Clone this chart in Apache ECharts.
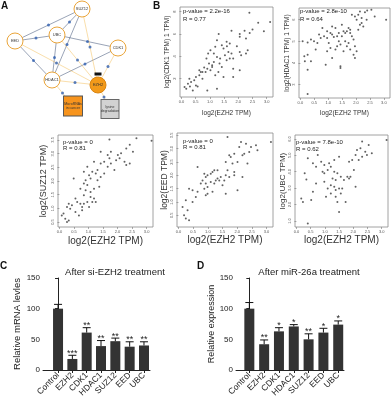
<!DOCTYPE html>
<html>
<head>
<meta charset="utf-8">
<script src="https://cdn.jsdelivr.net/npm/echarts@6/dist/echarts.min.js"></script>
<style>html,body{margin:0;padding:0;background:#fff}#main{width:392px;height:400px}</style>
</head>
<body>
<div id="main"></div>
<script>
// ---- panel A : network ----
const nodeNames = ['SUZ12', 'EED', 'UBC', 'CDK1', 'HDAC1', 'EZH2', 'MicroRNAs\nin cancer', 'lysine\ndegradation', 'tag'];
const nodeX = [82, 15, 57, 118, 52, 98, 73, 110, 98];
const nodeY = [9, 41, 35, 48, 80, 85, 106, 109, 74];
const blueLinks = [[1, 0], [1, 2], [1, 4], [2, 0], [0, 4], [2, 4], [2, 3], [4, 3]];
const orangeLinks = [[0, 5], [1, 5], [2, 5], [4, 5], [3, 5], [4, 6], [5, 7]];

// ---- panel B : scatter plots ----
const cdk1Points = [
  [0.11,1.25],[0.17,1.1],[0.23,1.55],[0.28,2.0],[0.34,1.7],[0.4,0.95],[0.45,1.85],[0.51,2.15],[0.57,1.3],[0.63,2.3],
  [0.68,2.6],[0.74,2.0],[0.85,2.6],[0.91,2.9],[0.97,3.35],[1.08,3.05],[1.19,2.3],[1.25,1.1],[0.91,0.95],[1.02,2.75],
  [1.14,3.5],[1.3,2.6],[1.48,2.15],[1.82,2.15],[1.14,4.25],[0.94,4.25],[1.02,4.55],[1.19,4.85],[1.25,5.45],[1.42,5.0],
  [1.59,5.3],[1.7,5.15],[1.48,4.7],[1.25,3.95],[1.36,3.8],[1.53,4.1],[1.65,4.4],[1.76,4.25],[1.7,3.8],[1.59,3.65],
  [1.82,3.8],[2.05,4.4],[2.27,4.25],[2.1,4.1],[2.33,4.55],[2.05,5.75],[2.27,5.6],[1.76,6.3],[2.05,6.0],[2.22,6.3],
  [2.5,6.4],[2.7,7.0],[2.9,6.25],[2.39,7.9],[1.42,3.05],[1.34,3.35],[1.08,3.2],[0.74,2.6],[2.05,2.75],[1.82,2.9],
  [1.31,6.0],[0.63,2.75],[0.51,1.4],[3.12,7.07],[0.3,1.3],[0.8,3.0],[1.6,4.9],[2.4,6.1],[1.95,4.9],[0.88,3.8]
];
const hdac1Points = [
  [2.14,6.38],[2.32,6.34],[2.4,6.43],[2.08,6.23],[1.96,6.15],[2.2,6.08],[2.55,6.46],[1.85,6.23],[2.02,6.0],[2.38,6.0],
  [0.08,5.0],[0.26,4.95],[0.38,5.08],[0.49,5.0],[0.61,4.92],[0.73,5.15],[0.85,5.23],[0.96,5.15],[1.08,5.38],[1.14,5.31],
  [1.2,5.2],[1.32,5.23],[1.38,5.38],[1.26,5.62],[1.55,5.46],[1.49,5.23],[1.61,5.38],[1.67,5.46],[1.73,5.62],[1.79,5.54],
  [1.49,5.77],[1.14,5.69],[0.96,5.46],[0.79,5.62],[0.55,4.62],[0.38,4.08],[0.26,4.38],[0.16,4.08],[0.26,3.69],[0.91,3.92],
  [1.14,4.23],[1.44,3.85],[1.32,4.77],[1.26,4.62],[1.08,4.69],[1.02,4.92],[1.44,4.85],[1.61,5.0],[1.67,4.77],[1.73,4.92],
  [1.55,4.54],[1.79,4.62],[1.85,5.23],[1.91,5.08],[1.96,4.77],[1.91,4.38],[2.02,4.54],[1.96,4.23],[2.14,5.77],[2.08,5.54],
  [2.2,5.85],[2.26,5.69],[2.67,6.15],[3.08,6.0],[0.26,2.57],[0.67,5.31],[0.96,4.54],[1.38,5.0],[1.79,5.38],[1.44,3.77],
  [0.14,4.31]
];
const suz12Points = [
  [2.65,3.56],[2.42,3.32],[2.3,3.19],[2.12,3.01],[2.01,2.95],[1.77,3.07],[1.72,2.83],[1.66,2.95],[1.42,3.07],[1.54,2.7],
  [1.77,2.64],[1.95,2.76],[2.07,2.83],[2.24,2.7],[2.3,2.58],[2.42,2.64],[1.89,2.4],[1.66,2.52],[1.42,2.64],[1.31,2.4],
  [1.25,2.27],[1.13,2.34],[1.07,2.09],[1.02,2.21],[0.9,2.03],[0.84,1.91],[0.96,1.85],[1.31,2.03],[1.37,1.79],[1.19,1.72],
  [1.07,1.6],[0.9,1.66],[0.84,1.48],[1.07,1.42],[1.19,1.36],[1.25,1.23],[1.13,1.23],[0.96,1.23],[0.84,1.17],[0.78,1.05],
  [0.72,1.17],[0.61,1.23],[0.55,1.36],[0.49,2.09],[0.43,1.11],[0.32,1.17],[0.26,1.05],[0.37,0.99],[0.14,0.81],[0.08,0.74],
  [0.2,0.62],[0.26,0.5],[0.32,0.56],[0.67,0.74],[0.55,0.87],[0.78,0.93],[0.72,1.72],[0.84,2.34],[0.96,2.52],[1.19,2.7],
  [1.54,2.27],[1.42,2.15],[1.02,1.05],[3.17,3.47],[1.72,3.52],[2.53,3.07]
];
const eedPoints = [
  [1.67,3.44],[2.13,3.25],[2.3,3.19],[2.47,3.06],[2.64,3.13],[2.41,2.88],[2.24,2.81],[2.18,2.75],[1.9,2.81],[1.78,2.69],
  [1.73,2.75],[1.61,2.5],[1.84,2.44],[2.01,2.5],[1.9,2.13],[1.67,2.19],[1.22,2.19],[1.16,2.13],[1.1,2.06],[0.99,2.0],
  [0.93,1.94],[0.88,2.06],[0.82,1.81],[0.93,1.69],[0.99,1.56],[1.1,1.75],[1.27,1.81],[1.33,1.88],[1.44,1.94],[1.56,1.81],
  [1.61,2.0],[1.73,1.94],[1.5,1.63],[1.22,1.69],[1.16,1.38],[0.99,1.31],[0.88,1.5],[0.76,1.69],[0.65,1.38],[0.59,1.19],
  [0.48,1.44],[0.36,1.5],[0.25,1.06],[0.48,1.0],[0.31,0.69],[0.19,0.5],[0.25,0.38],[0.14,0.81],[0.36,0.31],[0.65,2.31],
  [0.93,1.25],[2.01,1.44],[1.61,1.31],[1.9,2.0],[2.18,1.94],[2.35,2.44],[2.69,2.94],[2.07,3.06],[3.15,3.25],[1.33,2.19],
  [1.39,1.81]
];
const ubcPoints = [
  [3.17,5.94],[2.54,5.63],[2.42,5.22],[2.25,5.43],[2.31,5.84],[2.13,5.33],[2.08,5.02],[2.31,4.92],[2.48,5.02],[2.65,5.12],
  [2.19,4.71],[1.96,4.71],[1.85,4.61],[0.4,4.82],[0.75,5.02],[0.87,4.61],[0.69,4.31],[0.58,4.51],[0.98,4.41],[1.15,4.51],
  [1.33,4.71],[1.5,4.92],[1.1,4.1],[0.92,4.0],[0.98,3.9],[1.33,4.0],[1.21,4.31],[1.44,3.9],[1.56,3.69],[1.67,3.49],
  [1.79,3.69],[1.85,3.59],[1.9,3.69],[1.38,3.49],[1.27,3.59],[1.21,3.18],[0.98,3.39],[1.1,2.98],[1.33,3.08],[1.5,2.98],
  [1.38,2.88],[1.61,2.98],[1.21,2.67],[1.56,2.67],[1.04,2.47],[0.69,3.29],[0.35,3.53],[0.29,3.9],[0.17,2.37],[0.58,2.78],
  [0.52,2.27],[0.23,2.16],[1.44,2.16],[1.73,2.16],[1.5,1.55],[0.4,0.84],[2.08,3.08],[1.38,2.47],[2.02,4.1]
];
const pValues = ['p-value = 2.2e-16', 'p-value = 2.8e-10', 'p-value = 0', 'p-value = 0', 'p-value = 7.8e-10'];
const rValues = ['R = 0.77', 'R = 0.64', 'R = 0.81', 'R = 0.81', 'R = 0.62'];
const xTicks = [0, 0.5, 1, 1.5, 2, 2.5, 3];

// ---- panels C, D : bars ----
const genes = ['Control', 'EZH2', 'CDK1', 'HDAC1', 'SUZ12', 'EED', 'UBC'];
const siValues = [100, 18, 61, 39, 47, 38, 40];
const siErrors = [7, 6, 8, 9, 5, 8, 6];
const siStars = ['', '***', '**', '**', '**', '**', '**'];
const mirValues = [100, 42, 63, 71, 50, 61, 74];
const mirErrors = [10, 7, 6, 3, 9, 7, 6];
const mirStars = ['', '**', '*', '*', '**', '*', '*'];

const FONT = 'Liberation Sans, Arial, sans-serif';
const chart = echarts.init(document.getElementById('main'));

// scatter panels: box, y range, y ticks, name, label sizes
const scat = [
  { box: [180, 7, 93, 90], pts: cdk1Points, yMin: 0.36, yMax: 8.42, yTicks: [2, 4, 6, 8], yName: 'log2(CDK1 TPM) 1 TPM)', big: false, yGap: 9, xGap: 12.5, yFs: 6.5, txt: [183, 11.7] },
  { box: [299, 8, 91, 90], pts: hdac1Points, yMin: 2.38, yMax: 6.54, yTicks: [3, 4, 5, 6], yName: 'log2(HDAC1 TPM) 1 TPM)', big: false, yGap: 8, xGap: 11.5, yFs: 6.5, txt: [300, 11.7] },
  { box: [58, 135, 95, 92], pts: suz12Points, yMin: 0.32, yMax: 3.68, yTicks: [0.5, 1, 1.5, 2, 2.5, 3, 3.5], yName: 'log2(SUZ12 TPM)', big: true, yGap: 10, xGap: 9.5, yFs: 9, txt: [63, 142.3] },
  { box: [177, 133, 96, 94], pts: eedPoints, yMin: 0.06, yMax: 3.59, yTicks: [0.5, 1, 1.5, 2, 2.5, 3, 3.5], yName: 'log2(EED TPM)', big: true, yGap: 8, xGap: 8, yFs: 8.5, txt: [183, 141] },
  { box: [295, 135, 93, 92], pts: ubcPoints, yMin: 0.63, yMax: 6.24, yTicks: [1, 2, 3, 4, 5, 6], yName: 'log2(UBC TPM)', big: true, yGap: 5, xGap: 8, yFs: 8, txt: [296, 142.7] }
];

const grids = [{ left: 0, top: 0, width: 140, height: 130 }];
const xAxes = [{ type: 'value', gridIndex: 0, min: 0, max: 140, show: false }];
const yAxes = [{ type: 'value', gridIndex: 0, min: 0, max: 130, inverse: true, show: false }];
const series = [];
const graphic = [];

// network
const links = [];
const mids = [];
blueLinks.forEach(l => {
  links.push({ source: l[0], target: l[1], lineStyle: { color: '#1f3560', width: 0.9 } });
});
orangeLinks.forEach(l => {
  links.push({ source: l[0], target: l[1], lineStyle: { color: '#f2b544', width: 0.9 } });
});
blueLinks.concat(orangeLinks).forEach(l => {
  mids.push([(nodeX[l[0]] + nodeX[l[1]]) / 2, (nodeY[l[0]] + nodeY[l[1]]) / 2]);
});
const nodes = nodeNames.map((n, i) => {
  const item = {
    name: n, value: [nodeX[i], nodeY[i]], symbol: 'circle', symbolSize: 16,
    itemStyle: { color: '#fff', borderColor: '#eaa53a', borderWidth: 1 },
    label: { show: true, formatter: n, fontSize: 4, color: '#333' }
  };
  if (n === 'EZH2') item.itemStyle = { color: '#f39a1a', borderColor: '#d98410', borderWidth: 1 };
  if (i === 6) {
    item.symbol = 'rect'; item.symbolSize = [19, 20];
    item.itemStyle = { color: '#f7941d', borderColor: '#555', borderWidth: 1 };
    item.label.fontSize = 3.5;
  }
  if (i === 7) {
    item.symbol = 'rect'; item.symbolSize = [18, 19];
    item.itemStyle = { color: '#d2d2d2', borderColor: '#666', borderWidth: 1 };
    item.label.fontSize = 3.5;
  }
  if (i === 8) {
    item.symbol = 'rect'; item.symbolSize = [7, 3];
    item.itemStyle = { color: '#111' };
    item.label.show = false;
  }
  return item;
});
series.push({
  type: 'graph', coordinateSystem: 'cartesian2d', xAxisIndex: 0, yAxisIndex: 0,
  data: nodes, links: links, z: 2, silent: true,
  label: { fontFamily: 'Liberation Sans Narrow, Liberation Sans, sans-serif' }
});
series.push({
  type: 'scatter', xAxisIndex: 0, yAxisIndex: 0, data: mids, symbolSize: 3,
  itemStyle: { color: '#2f5fb0' }, z: 3, silent: true
});

// scatters
scat.forEach((s, k) => {
  const g = k + 1;
  grids.push({ left: s.box[0], top: s.box[1], width: s.box[2], height: s.box[3], show: true, borderColor: '#8a8a8a', borderWidth: 0.8 });
  xAxes.push({
    type: 'value', gridIndex: g, min: -0.05, max: 3.22, splitLine: { show: false },
    axisLine: { show: false },
    axisTick: { show: true, customValues: xTicks, length: 2, lineStyle: { color: '#777', width: 0.6 } },
    axisLabel: { customValues: xTicks, formatter: v => v.toFixed(1), fontSize: 4, color: '#555', margin: 3 },
    name: 'log2(EZH2 TPM)', nameLocation: 'middle', nameGap: s.xGap,
    nameTextStyle: { fontSize: s.big ? 10 : 6.5, color: '#333', fontFamily: FONT }
  });
  yAxes.push({
    type: 'value', gridIndex: g, min: s.yMin, max: s.yMax, splitLine: { show: false },
    axisLine: { show: false },
    axisTick: { show: true, customValues: s.yTicks, length: 2, lineStyle: { color: '#777', width: 0.6 } },
    axisLabel: { customValues: s.yTicks, formatter: v => (s.big ? v.toFixed(1) : String(v)), fontSize: 4, color: '#555', margin: 3, rotate: 90 },
    name: s.yName, nameLocation: 'middle', nameGap: s.yGap,
    nameTextStyle: { fontSize: s.yFs, color: '#333', fontFamily: FONT }
  });
  series.push({
    type: 'scatter', xAxisIndex: g, yAxisIndex: g, data: s.pts, symbolSize: 2,
    itemStyle: { color: '#3a3a3a' }, silent: true
  });
  const lh = s.big ? 6.3 : 7.2;
  graphic.push({ type: 'text', x: s.txt[0], y: s.txt[1], style: { text: pValues[k], fontSize: 6, fill: '#222', fontFamily: FONT, verticalAlign: 'middle' } });
  graphic.push({ type: 'text', x: s.txt[0], y: s.txt[1] + lh, style: { text: rValues[k], fontSize: 6, fill: '#222', fontFamily: FONT, verticalAlign: 'middle' } });
});

// bars
function barPanel(g, left, width, xMin, xMax, values, errors, stars, yName, yGap, yFs) {
  grids.push({ left: left, top: 278, width: width, height: 92 });
  xAxes.push({
    type: 'value', gridIndex: g, min: xMin, max: xMax, splitLine: { show: false },
    axisLine: { lineStyle: { color: '#222', width: 1 } },
    axisTick: { customValues: [0, 1, 2, 3, 4, 5, 6], length: 3, lineStyle: { color: '#222' } },
    axisLabel: { customValues: [0, 1, 2, 3, 4, 5, 6], formatter: v => genes[Math.round(v)], rotate: 45, fontSize: 8.5, color: '#222', margin: 4, fontFamily: FONT }
  });
  yAxes.push({
    type: 'value', gridIndex: g, min: 0, max: 150, interval: 50, splitLine: { show: false },
    axisLine: { show: true, lineStyle: { color: '#222', width: 1 } },
    axisTick: { show: true, length: 3, lineStyle: { color: '#222' } },
    axisLabel: { fontSize: 8, color: '#222', margin: 3, fontFamily: FONT },
    name: yName, nameLocation: 'middle', nameGap: yGap,
    nameTextStyle: { fontSize: yFs, color: '#222', fontFamily: FONT }
  });
  series.push({
    type: 'bar', xAxisIndex: g, yAxisIndex: g, barWidth: 10,
    data: values.map((v, i) => [i, v]), itemStyle: { color: '#333' }, silent: true
  });
  series.push({
    type: 'custom', xAxisIndex: g, yAxisIndex: g, z: 5, silent: true,
    encode: { x: 0, y: [1, 2] },
    data: values.map((v, i) => [i, v, v + errors[i]]),
    renderItem: function (params, api) {
      const b = api.coord([api.value(0), api.value(1)]);
      const t = api.coord([api.value(0), api.value(2)]);
      return {
        type: 'group', children: [
          { type: 'line', shape: { x1: b[0], y1: b[1], x2: t[0], y2: t[1] }, style: { stroke: '#111', lineWidth: 1 } },
          { type: 'line', shape: { x1: t[0] - 4, y1: t[1], x2: t[0] + 4, y2: t[1] }, style: { stroke: '#111', lineWidth: 1 } },
          { type: 'text', x: t[0], y: t[1] - 2, style: { text: stars[params.dataIndex], fontSize: 9, fill: '#222', align: 'center', verticalAlign: 'middle', fontFamily: FONT } }
        ]
      };
    }
  });
}
barPanel(6, 43, 107, -1.05, 6.42, siValues, siErrors, siStars, 'Relative mRNA levles', 15, 9.5);
barPanel(7, 236, 108, -0.9, 6.39, mirValues, mirErrors, mirStars, 'Relative expression', 15.5, 9);

// titles and panel letters
graphic.push({ type: 'text', x: 115, y: 272, style: { text: 'After si-EZH2 treatment', fontSize: 9.5, fill: '#222', align: 'center', verticalAlign: 'middle', fontFamily: FONT } });
graphic.push({ type: 'text', x: 309, y: 272, style: { text: 'After miR-26a treatment', fontSize: 9.5, fill: '#222', align: 'center', verticalAlign: 'middle', fontFamily: FONT } });
[['A', 1, 1], ['B', 153, 1], ['C', 0, 261], ['D', 197, 261]].forEach(p => {
  graphic.push({ type: 'text', x: p[1], y: p[2], style: { text: p[0], fontSize: 10, fontWeight: 'bold', fill: '#111', fontFamily: FONT } });
});

chart.setOption({
  animation: false,
  backgroundColor: '#fff',
  grid: grids,
  xAxis: xAxes,
  yAxis: yAxes,
  series: series,
  graphic: graphic
});
</script>
</body>
</html>
